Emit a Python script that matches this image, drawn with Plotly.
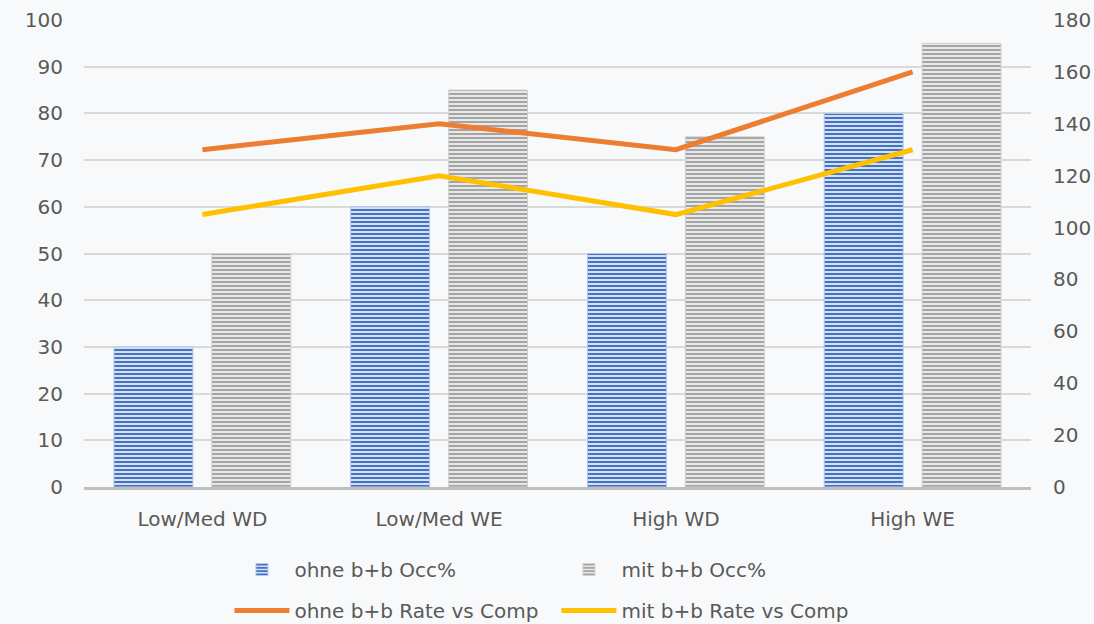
import plotly.graph_objects as go

categories = ["Low/Med WD", "Low/Med WE", "High WD", "High WE"]
ohne_occ = [30, 60, 50, 80]
mit_occ = [50, 85, 75, 95]
ohne_rate = [130, 140, 130, 160]
mit_rate = [105, 120, 105, 130]

left_ticks = list(range(0, 101, 10))
right_ticks = list(range(0, 181, 20))

FONT = "DejaVu Sans"
FS = 20
TXT = "#595959"
BG = "#F8F9FA"

fig = go.Figure()
fig.add_trace(go.Bar(
    x=categories, y=ohne_occ, name="ohne b+b Occ%", yaxis="y", legend="legend",
    marker=dict(color="#4472C4", line=dict(color="#B4C7E7", width=1),
                pattern=dict(shape="-", fgcolor="#4472C4", bgcolor="#D6E0F3",
                             size=4, solidity=0.5, fillmode="replace")),
))
fig.add_trace(go.Bar(
    x=categories, y=mit_occ, name="mit b+b Occ%", yaxis="y", legend="legend",
    marker=dict(color="#A5A5A5", line=dict(color="#D0D0D0", width=1),
                pattern=dict(shape="-", fgcolor="#A5A5A5", bgcolor="#E8E8E8",
                             size=4, solidity=0.5, fillmode="replace")),
))
fig.add_trace(go.Scatter(
    x=categories, y=ohne_rate, name="ohne b+b Rate vs Comp", yaxis="y2", legend="legend2",
    mode="lines", line=dict(color="#ED7D31", width=5),
))
fig.add_trace(go.Scatter(
    x=categories, y=mit_rate, name="mit b+b Rate vs Comp", yaxis="y2", legend="legend2",
    mode="lines", line=dict(color="#FFC000", width=5),
))

legend_common = dict(orientation="h", xanchor="left", yanchor="top",
                     entrywidth=257, entrywidthmode="pixels", bgcolor="rgba(0,0,0,0)",
                     itemwidth=55, font=dict(size=FS, color=TXT), itemclick=False)

fig.update_layout(
    width=1094, height=624,
    margin=dict(l=84, r=63, t=20, b=137, autoexpand=False),
    paper_bgcolor=BG, plot_bgcolor=BG,
    font=dict(family=FONT, size=FS, color=TXT),
    barmode="group", bargap=0.173, bargroupgap=0.194,
    xaxis=dict(showgrid=False, showline=True, linecolor="#BFBFBF", linewidth=3,
               ticks="", ticklabelstandoff=12, tickfont=dict(size=FS, color=TXT)),
    yaxis=dict(range=[0, 100], tickvals=left_ticks, showgrid=True, gridcolor="#D9D9D9",
               gridwidth=1.5, zeroline=False, ticks="", ticklabelstandoff=20,
               tickfont=dict(size=FS, color=TXT)),
    yaxis2=dict(range=[0, 180], tickvals=right_ticks, overlaying="y", side="right",
                showgrid=False, zeroline=False, ticks="", ticklabelstandoff=21,
                tickfont=dict(size=FS, color=TXT)),
    legend=dict(x=0.1536, y=-0.1349, **legend_common),
    legend2=dict(x=0.1536, y=-0.2227, **legend_common),
)

fig.write_html(
    "out.html",
    config={"displayModeBar": False},
    post_script="document.body.style.margin='0';document.body.style.background='%s';"
                "document.documentElement.style.overflow='hidden';" % BG,
)
